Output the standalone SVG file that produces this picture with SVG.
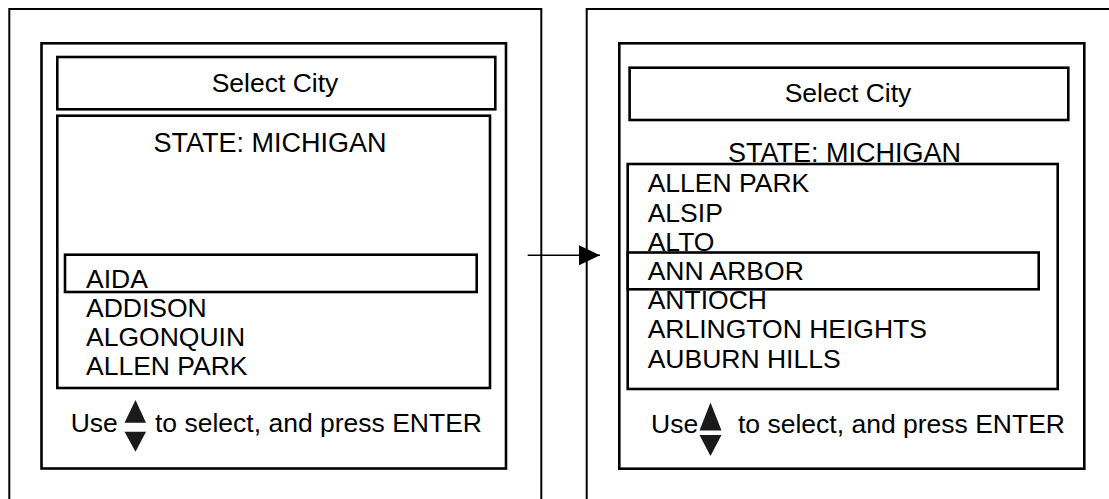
<svg xmlns="http://www.w3.org/2000/svg" width="1109" height="499" viewBox="0 0 1109 499">
<style>
.outer{fill:none;stroke:#000;stroke-width:2}
.box{fill:none;stroke:#000;stroke-width:2.6}
.t{font-family:"Liberation Sans",Arial,sans-serif;font-size:26.5px;fill:#000}
.c{text-anchor:middle}
.big{font-size:27px}
.tri{fill:#1a1a1a}
.conn{stroke:#000;stroke-width:1.6;fill:none}
</style>
<defs>
<marker id="ah" markerWidth="21" markerHeight="20" refX="21" refY="10" orient="auto" markerUnits="userSpaceOnUse">
<path d="M0,0 L21,10 L0,20 Z" fill="#000"/>
</marker>
</defs>
<rect width="1109" height="499" fill="#fff"/>
<g id="screen-left">
<rect class="outer" x="9.3" y="9" width="532" height="500"/>
<rect class="box" x="41.5" y="43.3" width="464.5" height="425.2"/>
<rect class="box" x="57.3" y="57" width="438" height="52.3"/>
<text class="t c" x="275" y="91.5">Select City</text>
<rect class="box" x="57.3" y="115.7" width="432.7" height="272.3"/>
<text class="t c big" x="270" y="152">STATE: MICHIGAN</text>
<rect class="box" x="65" y="254.7" width="411.7" height="37.3"/>
<text class="t" x="86" y="287.7">AIDA</text>
<text class="t" x="86" y="317">ADDISON</text>
<text class="t" x="86" y="346">ALGONQUIN</text>
<text class="t" x="86" y="375">ALLEN PARK</text>
<text class="t" x="70.7" y="432.3">Use</text>
<path class="tri" d="M135.5,400 L146,422.7 L124.5,422.7 Z"/>
<path class="tri" d="M124.5,431.7 L146,431.7 L135.5,451.7 Z"/>
<text class="t" x="155" y="432.3">to select, and press ENTER</text>
</g>
<g id="screen-right">
<rect class="outer" x="586.7" y="9" width="540" height="500"/>
<rect class="box" x="619.3" y="43.3" width="465" height="425.4"/>
<rect class="box" x="629.6" y="67.7" width="438.7" height="52.3"/>
<text class="t c" x="848" y="102">Select City</text>
<text class="t c big" x="844.5" y="161.5">STATE: MICHIGAN</text>
<rect class="box" x="627.7" y="164" width="430" height="225"/>
<text class="t" x="647.7" y="192.3">ALLEN PARK</text>
<text class="t" x="647.7" y="221.5">ALSIP</text>
<text class="t" x="647.7" y="250.7">ALTO</text>
<rect class="box" x="627.7" y="252.5" width="411" height="36.8"/>
<text class="t" x="647.7" y="279.9">ANN ARBOR</text>
<text class="t" x="647.7" y="309.1">ANTIOCH</text>
<text class="t" x="647.7" y="338.3">ARLINGTON HEIGHTS</text>
<text class="t" x="647.7" y="367.5">AUBURN HILLS</text>
<text class="t" x="651" y="432.7">Use</text>
<path class="tri" d="M710.5,402.5 L721.5,430.5 L699.5,430.5 Z"/>
<path class="tri" d="M699.5,435 L721.5,435 L710.5,456 Z"/>
<text class="t" x="738" y="432.7">to select, and press ENTER</text>
</g>
<g id="connectors">
<line class="conn" x1="527.7" y1="255.3" x2="600" y2="255.3" marker-end="url(#ah)"/>
</g>
</svg>
